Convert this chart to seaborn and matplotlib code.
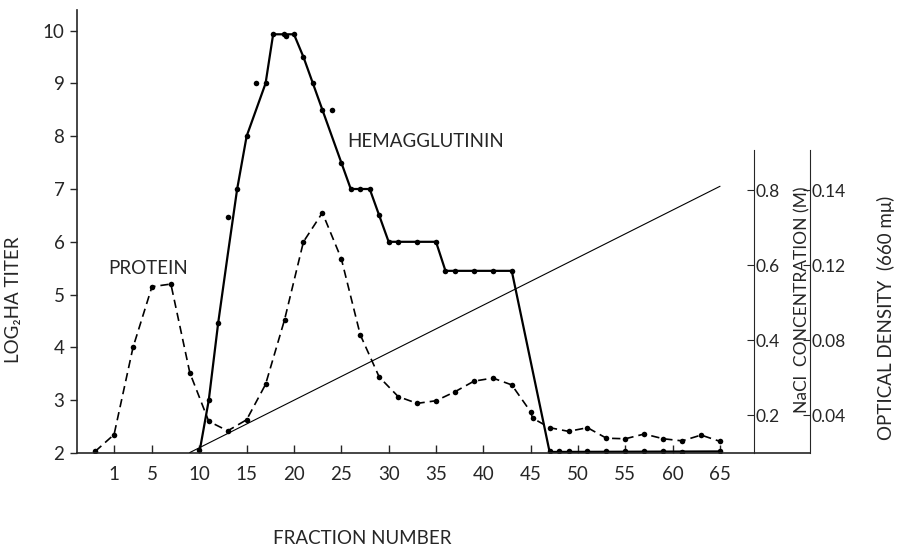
import matplotlib
matplotlib.use("Agg")
import matplotlib.pyplot as plt
import seaborn as sns

# Hemagglutinin dots (fraction number, log2 HA titer)
ha_frac = [10, 11, 12, 13, 14, 15, 16, 17, 17.8, 18.9, 19.2, 20, 21, 22, 23, 24, 25,
           26, 27, 28, 29, 30, 31, 33, 35, 36, 37, 39, 41, 43,
           47, 48, 49, 51, 53, 55, 57, 59, 61, 65]
ha_titer = [2.05, 3.0, 4.47, 6.47, 7.0, 8.0, 9.0, 9.0, 9.93, 9.93, 9.9, 9.93, 9.5, 9.0, 8.5, 8.5, 7.5,
            7.0, 7.0, 7.0, 6.5, 6.0, 6.0, 6.0, 6.0, 5.45, 5.45, 5.45, 5.45, 5.45,
            2.03, 2.04, 2.04, 2.03, 2.03, 2.03, 2.03, 2.03, 2.02, 2.03]

# hand drawn hemagglutinin line
ha_line_frac = [10, 11, 12, 13, 14, 15, 17, 17.8, 20, 21, 22, 23, 25, 26, 28, 29, 30, 35, 36, 43, 47, 65]
ha_line_titer = [2.0, 3.0, 4.47, 5.75, 7.0, 8.0, 9.0, 9.93, 9.93, 9.5, 9.0, 8.5, 7.5, 7.0, 7.0, 6.5,
                 6.0, 6.0, 5.45, 5.45, 2.02, 2.03]

# protein (optical density), read in titer units
protein_frac = [-1, 1, 3, 5, 7, 9, 11, 13, 15, 17, 19, 21, 23, 25, 27, 29, 31, 33, 35, 37,
                39, 41, 43, 45, 45.2, 47, 49, 51, 53, 55, 57, 59, 61, 63, 65]
protein_val = [2.03, 2.35, 4.0, 5.15, 5.2, 3.52, 2.6, 2.42, 2.63, 3.3, 4.52, 6.0, 6.55, 5.68, 4.24,
               3.44, 3.07, 2.94, 2.99, 3.16, 3.36, 3.42, 3.29, 2.78, 2.66, 2.48, 2.41, 2.48,
               2.28, 2.27, 2.36, 2.27, 2.23, 2.34, 2.22]

# NaCl gradient (M)
nacl_frac = [9, 65]
nacl_conc = [0.1, 0.81]

x_ticks = [1, 5, 10, 15, 20, 25, 30, 35, 40, 45, 50, 55, 60, 65]
y_ticks = [2, 3, 4, 5, 6, 7, 8, 9, 10]
nacl_ticks = [0.2, 0.4, 0.6, 0.8]
nacl_tick_labels = ["0.2", "0.4", "0.6", "0.8"]
od_tick_labels = ["0.04", "0.08", "0.12", "0.14"]

sns.set_style("ticks")
plt.rcParams["font.family"] = ["Lato", "DejaVu Sans"]
fs = 13.5
fs_r = 12.5

fig = plt.figure(figsize=(8.97, 5.59), dpi=100)
ax = fig.add_axes([0.0858, 0.1896, 0.8172, 0.7925])

sns.lineplot(x=ha_line_frac, y=ha_line_titer, ax=ax, color="black", lw=1.6,
             estimator=None, sort=False)
sns.scatterplot(x=ha_frac, y=ha_titer, ax=ax, color="black", s=16, linewidth=0)
sns.lineplot(x=protein_frac, y=protein_val, ax=ax, color="black", lw=1.2,
             linestyle=(0, (5, 3)), estimator=None, sort=False)
sns.scatterplot(x=protein_frac, y=protein_val, ax=ax, color="black", s=16, linewidth=0)

ax.set_xlim(-2.92, 74.5)
ax.set_ylim(2, 10.39)
ax.set_xticks(x_ticks)
ax.set_yticks(y_ticks)
ax.tick_params(axis="x", direction="in", length=6, width=1, pad=9, labelsize=fs)
ax.tick_params(axis="y", direction="out", length=5, width=1, pad=4, labelsize=fs)
for s in ["top", "right"]:
    ax.spines[s].set_visible(False)
ax.spines["left"].set_linewidth(1.2)
ax.spines["bottom"].set_linewidth(1.2)

ax.set_ylabel("LOG\u2082HA TITER", fontsize=fs)
ax.yaxis.set_label_coords(-0.075, 0.345)
fig.text(362 / 897, 1 - 538 / 559, "FRACTION NUMBER", ha="center", va="center", fontsize=fs)

ax.text(4.6, 5.5, "PROTEIN", ha="center", va="center", fontsize=fs)
ax.text(25.6, 7.9, "HEMAGGLUTININ", ha="left", va="center", fontsize=fs)

# NaCl axis
ax2 = ax.twinx()
sns.lineplot(x=nacl_frac, y=nacl_conc, ax=ax2, color="black", lw=0.8)
ax2.set_ylim(0.0987, 1.28)
for s in ["top", "left", "bottom"]:
    ax2.spines[s].set_visible(False)
ax2.spines["right"].set_position(("axes", 0.9236))
ax2.spines["right"].set_bounds(0.0987, 0.907)
ax2.set_yticks(nacl_ticks)
ax2.set_yticklabels(nacl_tick_labels)
ax2.tick_params(axis="y", direction="in", length=5, pad=1, labelsize=fs_r)
ax2.set_ylabel("")

# optical density axis
ax3 = ax.twinx()
ax3.set_ylim(0.0987, 1.28)
for s in ["top", "left", "bottom"]:
    ax3.spines[s].set_visible(False)
ax3.spines["right"].set_bounds(0.0987, 0.907)
ax3.set_yticks(nacl_ticks)
ax3.set_yticklabels(od_tick_labels)
ax3.tick_params(axis="y", direction="in", length=5, pad=1, labelsize=fs_r)

fig.text(802 / 897, 1 - 300 / 559, "NaCl  CONCENTRATION (M)", rotation=90,
         ha="center", va="center", fontsize=fs_r)
fig.text(886 / 897, 1 - 318 / 559, "OPTICAL DENSITY  (660 m\u03bc)", rotation=90,
         ha="center", va="center", fontsize=fs)

fig.savefig("out.png", dpi=100)
